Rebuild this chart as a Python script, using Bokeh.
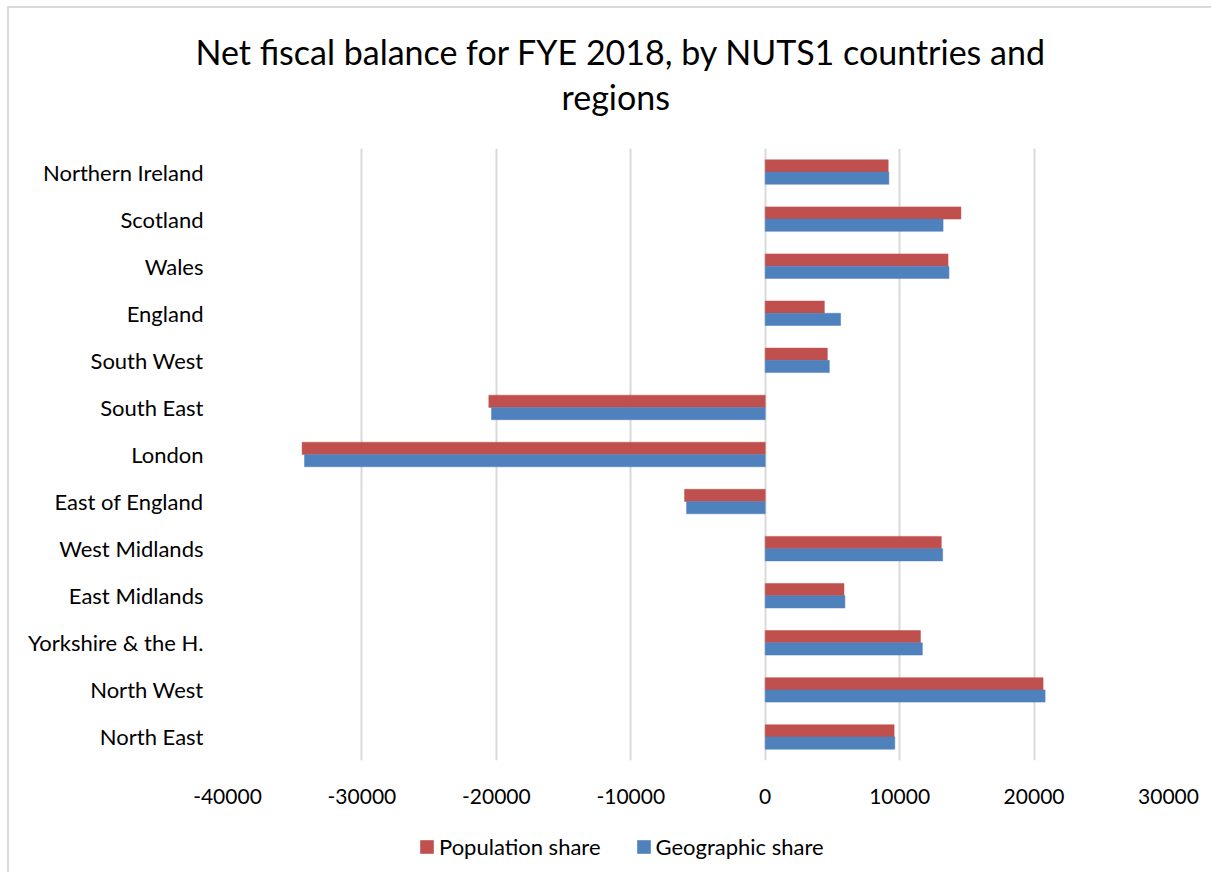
from bokeh.plotting import figure
from bokeh.layouts import column
from bokeh.models import (FactorRange, Legend, LegendItem, FixedTicker, ColumnDataSource, Range1d, Title)
from bokeh.transform import dodge
from bokeh.embed import file_html
from bokeh.resources import INLINE

# Data (bottom to top as drawn)
regions = ["North East", "North West", "Yorkshire & the H.", "East Midlands", "West Midlands",
           "East of England", "London", "South East", "South West", "England", "Wales",
           "Scotland", "Northern Ireland"]
population_share = [9590, 20670, 11550, 5860, 13100, -6000, -34450, -20560, 4620, 4400, 13600, 14560, 9150]
geographic_share = [9640, 20820, 11690, 5930, 13200, -5850, -34270, -20360, 4770, 5610, 13670, 13230, 9200]
x_ticks = [-40000, -30000, -20000, -10000, 0, 10000, 20000, 30000]
x_tick_labels = ["-40000", "-30000", "-20000", "-10000", "0", "10000", "20000", "30000"]
title_lines = ["Net fiscal balance for FYE 2018, by NUTS1 countries and", "regions"]
series_names = ["Population share", "Geographic share"]
series_colors = ["#C0504D", "#4F81BD"]

FONT = "Lato"
LEFT = 218
RIGHT = 43
FW = 941

# ---- main chart ----
source = ColumnDataSource(dict(region=regions, pop=population_share, geo=geographic_share))
p = figure(frame_width=FW, frame_height=612, y_range=FactorRange(*regions), x_range=(-40000, 30000),
           output_backend="svg", toolbar_location=None, title=None)
p.min_border_left = LEFT
p.min_border_right = RIGHT
p.min_border_top = 140
p.min_border_bottom = 62
p.outline_line_color = None
p.y_range.range_padding = 0

p.hbar(y=dodge("region", 0.13, range=p.y_range), right="pop", left=0, height=0.26,
       source=source, fill_color=series_colors[0], line_color=series_colors[0], line_alpha=0.5)
p.hbar(y=dodge("region", -0.13, range=p.y_range), right="geo", left=0, height=0.26,
       source=source, fill_color=series_colors[1], line_color=series_colors[1], line_alpha=0.5)

p.xaxis.ticker = FixedTicker(ticks=x_ticks)
p.xaxis.major_label_overrides = {t: s for t, s in zip(x_ticks, x_tick_labels)}
p.xgrid.ticker = FixedTicker(ticks=x_ticks)
p.xgrid.grid_line_color = "#D9D9D9"
p.xgrid.grid_line_width = 2
p.ygrid.grid_line_color = None

for ax in (p.xaxis[0], p.yaxis[0]):
    ax.axis_line_color = None
    ax.major_tick_line_color = None
    ax.minor_tick_line_color = None
    ax.major_label_text_font = FONT
    ax.major_label_text_color = "#000000"
p.xaxis.major_label_text_font_size = "21px"
p.yaxis.major_label_text_font_size = "22px"
p.xaxis.major_label_standoff = 22
p.yaxis.major_label_standoff = 18

# two-line title (second line nearest the plot)
p.add_layout(Title(text=title_lines[1], align="left", text_font=FONT, text_font_size="34px",
                   text_font_style="normal", text_color="#000000", standoff=64, offset=334), "above")
p.add_layout(Title(text=title_lines[0], align="left", text_font=FONT, text_font_size="34px",
                   text_font_style="normal", text_color="#000000", standoff=-60, offset=-32), "above")

# ---- legend strip ----
p2 = figure(width=LEFT + FW + RIGHT, height=50, x_range=Range1d(0, 1), y_range=Range1d(0, 1),
            x_axis_location=None, y_axis_location=None, min_border=0,
            output_backend="svg", toolbar_location=None)
p2.outline_line_color = None
p2.grid.visible = False
items = []
for name, col in zip(series_names, series_colors):
    proxy = ColumnDataSource(dict(y=[0], left=[0], right=[0]))
    r = p2.hbar(y="y", left="left", right="right", height=0.01, source=proxy,
                fill_color=col, line_color=None)
    items.append(LegendItem(label=name, renderers=[r]))
legend = Legend(items=items, orientation="horizontal", location=(191, 12),
                label_text_font=FONT, label_text_font_size="22px", label_text_color="#000000",
                glyph_width=17, glyph_height=17, label_standoff=4, spacing=34,
                border_line_color=None, background_fill_alpha=0, margin=0, padding=4)
p2.add_layout(legend, "center")

layout = column(p, p2, spacing=0)
layout.margin = (6, 0, 0, 7)
layout.styles = {"border-left": "2px solid #d9d9d9", "border-top": "2px solid #d9d9d9"}

open("out.html", "w").write(file_html(layout, INLINE))
